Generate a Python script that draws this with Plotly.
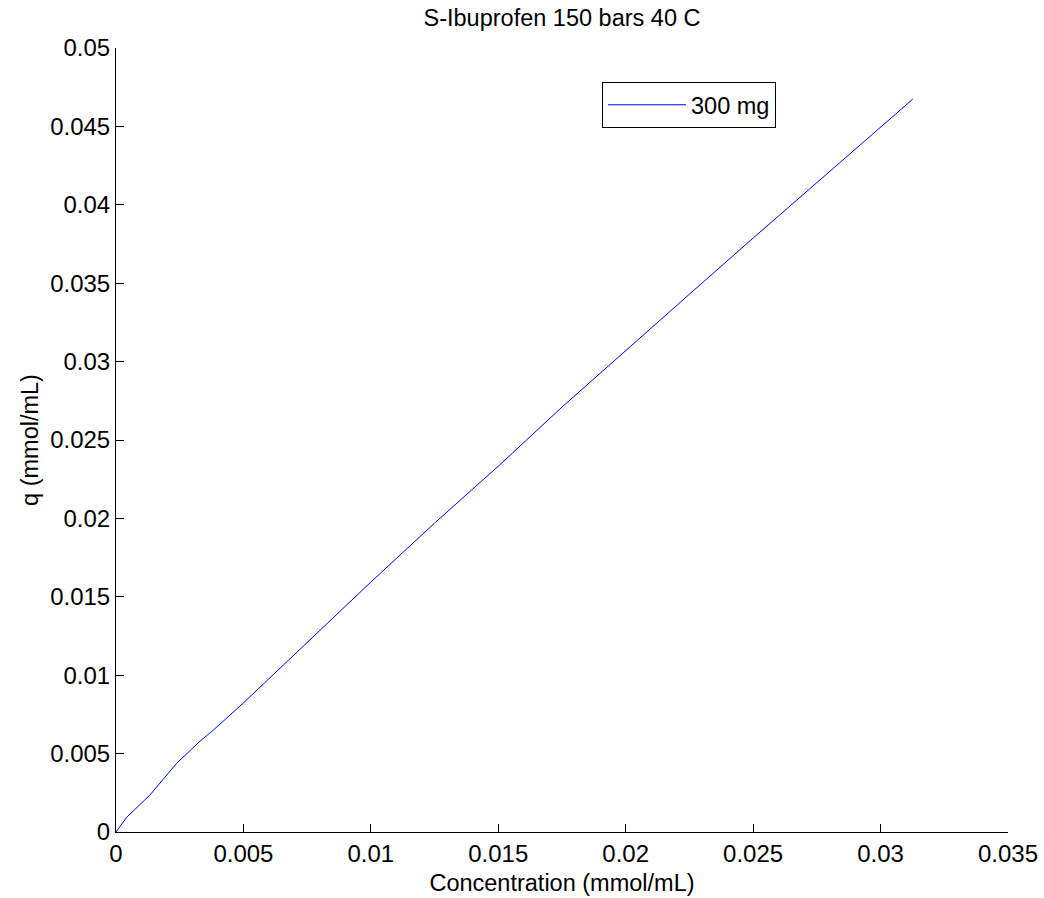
import plotly.graph_objects as go

# Data
concentration = [0, 0.00042, 0.00133, 0.00238, 0.0033, 0.00382, 0.005, 0.0075,
                 0.010, 0.0125, 0.015, 0.0175, 0.020, 0.0225, 0.025, 0.0275,
                 0.030, 0.03126]
q_values = [0, 0.00094, 0.00236, 0.00438, 0.0058, 0.0065, 0.00823, 0.0121,
            0.01594, 0.0197, 0.02333, 0.0271, 0.03073, 0.0343, 0.03788, 0.0414,
            0.04496, 0.04673]
x_ticks = [0, 0.005, 0.01, 0.015, 0.02, 0.025, 0.03, 0.035]
x_tick_labels = ["0", "0.005", "0.01", "0.015", "0.02", "0.025", "0.03", "0.035"]
y_ticks = [0, 0.005, 0.01, 0.015, 0.02, 0.025, 0.03, 0.035, 0.04, 0.045, 0.05]
y_tick_labels = ["0", "0.005", "0.01", "0.015", "0.02", "0.025", "0.03", "0.035",
                 "0.04", "0.045", "0.05"]
series_name = "300 mg"
title_text = "S-Ibuprofen 150 bars 40 C"

FONT = "Liberation Sans, Arial, sans-serif"
FS = 23.5
TFS = 24

fig = go.Figure()
fig.add_trace(go.Scatter(x=concentration, y=q_values, mode="lines", name=series_name,
                         line=dict(color="#0000ff", width=1)))

axis_common = dict(
    showline=True, linecolor="#000000", linewidth=1, mirror=False,
    ticks="inside", ticklen=8, tickcolor="#000000", tickwidth=1,
    showgrid=False, zeroline=False, automargin=False,
    tickfont=dict(family=FONT, size=TFS, color="#000000"),
)

fig.update_layout(
    width=1044, height=898,
    margin=dict(l=116, r=36, t=48, b=66, autoexpand=False),
    paper_bgcolor="white", plot_bgcolor="white",
    font=dict(family=FONT, size=FS, color="#000000"),
    title=dict(text=title_text, x=0.5, xref="paper", y=1 - 18 / 898, yref="container",
               xanchor="center", yanchor="middle",
               font=dict(family=FONT, size=FS, color="#000000")),
    xaxis=dict(range=[0, 0.035], tickvals=x_ticks, ticktext=x_tick_labels,
               title=dict(text="Concentration (mmol/mL)", standoff=8,
                          font=dict(family=FONT, size=FS)),
               **axis_common),
    yaxis=dict(range=[0, 0.05], tickvals=y_ticks, ticktext=y_tick_labels,
               title=dict(text="q (mmol/mL)", standoff=4,
                          font=dict(family=FONT, size=FS)),
               **axis_common),
    showlegend=True,
    legend=dict(x=(602 - 116) / 892, y=(832 - 82) / 784, xanchor="left", yanchor="top",
                bordercolor="#000000", borderwidth=1, bgcolor="white",
                font=dict(family=FONT, size=FS), itemwidth=78),
)

fig.write_html("out.html", config={"displayModeBar": False},
               post_script="document.body.style.margin='0px';")
